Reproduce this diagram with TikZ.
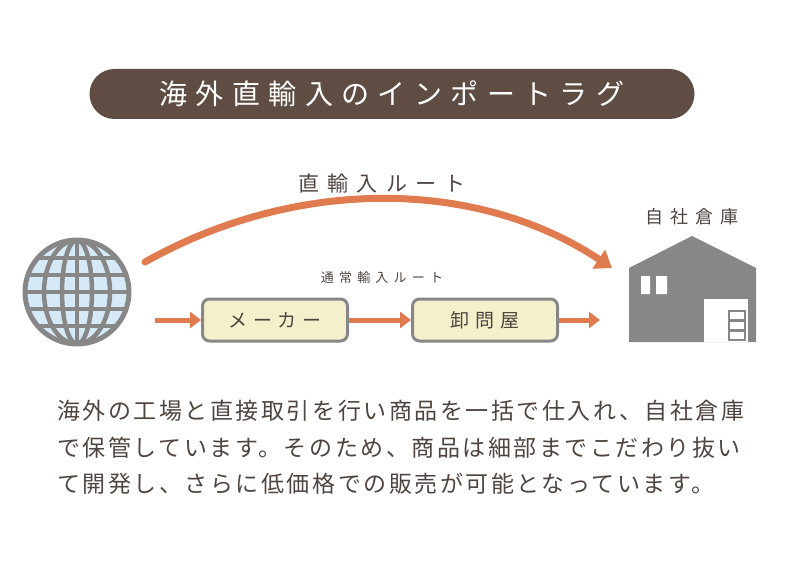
\documentclass[tikz,border=0pt]{standalone}
\usepackage{fontspec}
\setmainfont{Noto Sans CJK JP}
\newfontfamily\spaced[LetterSpace=11]{Noto Sans CJK JP}
\newfontfamily\wide[LetterSpace=30]{Noto Sans CJK JP}
\newfontfamily\wider[LetterSpace=40]{Noto Sans CJK JP}
\usetikzlibrary{arrows.meta}
\definecolor{banner}{HTML}{5F4D44}
\definecolor{route}{HTML}{E07B4F}
\definecolor{stone}{HTML}{878787}
\definecolor{cream}{HTML}{F4F0CB}
\definecolor{sky}{HTML}{D5EAF6}
\definecolor{ink}{HTML}{4F4540}
\begin{document}
\begin{tikzpicture}[x=1pt,y=-1pt,
        stage/.style={draw=stone,line width=3pt,fill=cream,rounded corners=7pt,
            minimum width=145pt,minimum height=42pt,font=\wide\fontsize{19}{19}\selectfont,text=ink},
        flow/.style={-{Triangle[length=11pt,width=16pt]},route,line width=5pt},
        label/.style={text=ink}
    ]
    \useasboundingbox (0,0) rectangle (790,580);

    % title
    \node[fill=banner,rounded corners=25pt,minimum width=605pt,minimum height=50pt,
        text=white,font=\wide\fontsize{28}{28}\selectfont] (title) at (392,94) {海外直輸入のインポートラグ};

    % globe
    \coordinate (globe) at (77,292);
    \begin{scope}
        \fill[sky] (globe) circle (52);
        \clip (globe) circle (52);
        \foreach \dy in {-34,-17,0,17,34}
            \draw[stone,line width=4.5pt] (25,292+\dy) -- (129,292+\dy);
        \foreach \rx in {15,33}
            \draw[stone,line width=4.5pt] (globe) ellipse (\rx pt and 52pt);
        \draw[stone,line width=4.5pt] (77,240) -- (77,344);
    \end{scope}
    \draw[stone,line width=5pt] (globe) circle (52);

    % warehouse
    \fill[stone] (629,268) -- (692,236) -- (756,268) -- (756,342) -- (629,342) -- cycle;
    \coordinate (house) at (692,236);
    \fill[white] (641,276) rectangle (650,294) (656,276) rectangle (667,294);
    \fill[white] (704,299) rectangle (748,342);
    \foreach \yy in {311,321,331}
        \draw[stone,line width=1.8pt] (729,\yy) rectangle (745,\yy+9);
    \node[label,font=\wider\fontsize{18}{18}\selectfont] (depot) at (692,217) {自社倉庫};

    % direct route
    \coordinate (dstart) at (145,262);
    \coordinate (dend) at (612,268);
    \draw[flow,line cap=round,line width=7pt,-{Triangle[length=16pt,width=22pt]}]
        (dstart) .. controls (300,175) and (480,180) .. (dend);
    \node[label,font=\wider\fontsize{21}{21}\selectfont] (direct) at (382,183) {直輸入ルート};

    % normal route
    \node[label,font=\wider\fontsize{13}{13}\selectfont] (normal) at (382,278) {通常輸入ルート};
    \node[stage] (maker) at (275,320) {メーカー};
    \node[stage] (whole) at (485,320) {卸問屋};
    \coordinate (a0) at (155,320);
    \coordinate (b0) at (600,320);
    \draw[flow] (a0) -- (maker.west);
    \draw[flow] (maker.east) -- (whole.west);
    \draw[flow] (whole.east) -- (b0);

    % description
    \node[label,anchor=north west,align=left,inner sep=0pt,font=\spaced\fontsize{23}{36.5}\selectfont] (text) at (57,400) {
        海外の工場と直接取引を行い商品を一括で仕入れ、自社倉庫\\
        で保管しています。そのため、商品は細部までこだわり抜い\\
        て開発し、さらに低価格での販売が可能となっています。
    };
\end{tikzpicture}
\end{document}
